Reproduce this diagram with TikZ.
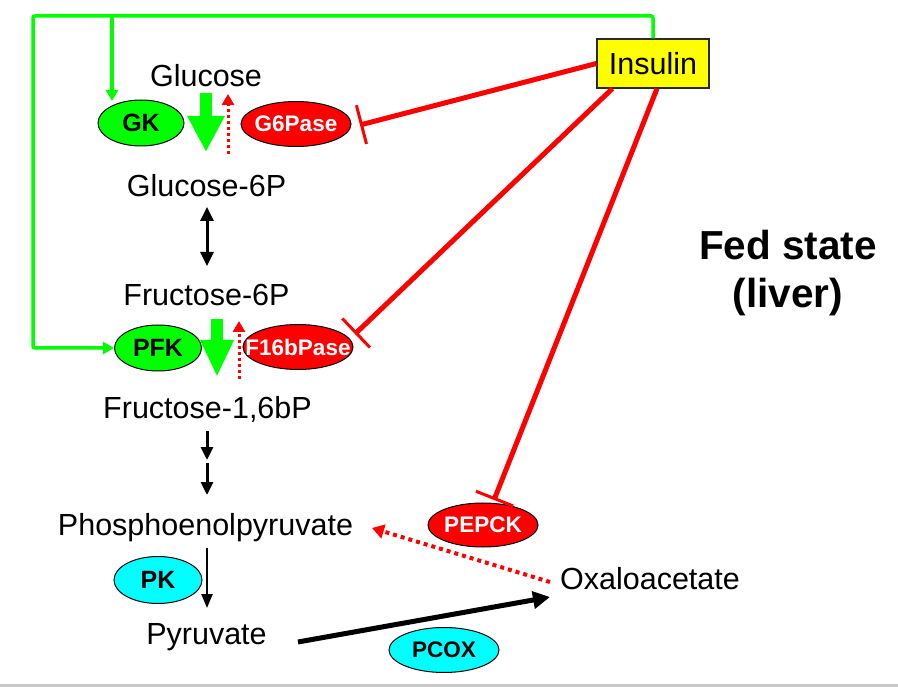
\documentclass[tikz,border=0pt]{standalone}
\usepackage{fontspec}
\setmainfont{Liberation Sans}
\usetikzlibrary{arrows.meta,shapes.geometric}
\definecolor{lgreen}{RGB}{0,255,0}
\definecolor{lred}{RGB}{255,0,0}
\definecolor{lcyan}{RGB}{0,255,255}
\definecolor{lyellow}{RGB}{255,255,0}
\definecolor{edgegray}{RGB}{40,40,40}
\definecolor{bottomgray}{RGB}{200,200,200}
\newcommand{\enzlabel}[1]{\makebox[0pt][c]{#1}}
\begin{document}
\begin{tikzpicture}[x=1pt,y=-1pt,
  metab/.style={anchor=base, inner sep=0pt, font=\fontsize{30.5}{36}\selectfont},
  enzyme/.style={ellipse, draw=black, line width=1pt, inner sep=0pt},
  enzbig/.style={font=\fontsize{25}{30}\selectfont\bfseries},
  enzsmall/.style={font=\fontsize{22.5}{27}\selectfont\bfseries},
  grnline/.style={draw=lgreen, line width=3.5pt, -{Triangle[width=12pt,length=11pt]}},
  bigarrow/.style={draw=lgreen, line width=12pt},
  reddot/.style={draw=lred, line width=3pt, dash pattern=on 3pt off 3pt, -{Triangle[width=12pt,length=11pt]}},
  inhib/.style={draw=lred, line width=5pt, -{Bar[width=40pt,line width=3pt]}},
  blk/.style={draw=black, line width=3pt}
]
\useasboundingbox (0,0) rectangle (898,687);
\fill[white] (0,0) rectangle (898,687);
\fill[bottomgray] (0,684) rectangle (898,687);

% metabolites
\node[metab] (glc) at (206,87) {Glucose};
\node[metab] (g6p) at (206.5,197) {Glucose-6P};
\node[metab] (f6p) at (206.5,306) {Fructose-6P};
\node[metab] (f16) at (207.5,418) {Fructose-1,6bP};
\node[metab] (pep) at (205.5,535) {Phosphoenolpyruvate};
\node[metab] (pyr) at (206.5,644) {Pyruvate};
\node[metab] (oaa) at (650,589) {Oxaloacetate};

% enzymes
\node[enzyme, enzbig, fill=lgreen, minimum width=86pt, minimum height=46pt] (gk) at (141,123) {\enzlabel{GK}};
\node[enzyme, enzsmall, fill=lred, text=white, minimum width=110pt, minimum height=45pt] (g6pase) at (296,124) {\enzlabel{G6Pase}};
\node[enzyme, enzbig, fill=lgreen, minimum width=87pt, minimum height=46pt] (pfk) at (158,348) {\enzlabel{PFK}};
\node[enzyme, enzsmall, fill=lred, text=white, minimum width=110pt, minimum height=45pt] (f16bpase) at (298,347) {\enzlabel{F16bPase}};
\node[enzyme, enzsmall, fill=lred, text=white, minimum width=110pt, minimum height=44pt] (pepck) at (483,525) {\enzlabel{PEPCK}};
\node[enzyme, enzbig, fill=lcyan, minimum width=88pt, minimum height=47pt] (pk) at (158,580) {\enzlabel{PK}};
\node[enzyme, enzsmall, fill=lcyan, minimum width=110pt, minimum height=45pt] (pcox) at (444,650) {\enzlabel{PCOX}};

% insulin and title
\node[draw=edgegray, fill=lyellow, line width=1.2pt, minimum width=112pt, minimum height=49pt, inner sep=0pt,
      font=\fontsize{30.5}{36}\selectfont] (ins) at (653,63.5) {Insulin};
\node[anchor=base, inner sep=0pt, font=\fontsize{40.5}{48}\selectfont\bfseries] (fed1) at (788,260) {Fed state};
\node[anchor=base, inner sep=0pt, font=\fontsize{40.5}{48}\selectfont\bfseries] (fed2) at (788,308) {(liver)};

% coordinates for free ends
\coordinate (br) at (112,16);
\coordinate (gktip) at (112,101);
\coordinate (bar1) at (360,125);
\coordinate (bar2) at (355,334);
\coordinate (bar3) at (494,500);
\coordinate (ga1) at (206,93);   \coordinate (ga2) at (206,152);
\coordinate (gb1) at (217,319);  \coordinate (gb2) at (217,377);
\coordinate (ra1) at (228,154);  \coordinate (ra2) at (228,94);
\coordinate (rb1) at (239,379);  \coordinate (rb2) at (239,321);
\coordinate (d1) at (207,207);   \coordinate (d2) at (207,266);
\coordinate (e1) at (207,431);   \coordinate (e2) at (207,460);
\coordinate (e3) at (207,463);   \coordinate (e4) at (207,495);
\coordinate (k1) at (207,548);   \coordinate (k2) at (207,608);
\coordinate (p1) at (298,642);   \coordinate (p2) at (550,597);
\coordinate (o1) at (550,582);   \coordinate (o2) at (372,528);

% green activation
\draw[grnline, rounded corners=2pt] (ins.north) |- (33,16) |- (pfk.west);
\draw[grnline] (br) -- (gktip);

% insulin inhibition
\draw[inhib] (ins.west) -- (bar1);
\draw[inhib] ([xshift=16pt]ins.south west) -- (bar2);
\draw[inhib] ([xshift=4pt]ins.south) -- (bar3);

% big green arrows
\draw[bigarrow, -{Triangle[width=35pt,length=36pt]}] (ga1) -- (ga2);
\draw[bigarrow, -{Triangle[width=31pt,length=37pt]}] (gb1) -- (gb2);

% red dotted reverse
\draw[reddot] (ra1) -- (ra2);
\draw[reddot] (rb1) -- (rb2);
\draw[reddot, line width=4pt, dash pattern=on 4pt off 4pt, -{Triangle[width=14pt,length=12pt]}] (o1) -- (o2);

% black arrows
\draw[blk, {Triangle[width=13pt,length=14pt]}-{Triangle[width=13pt,length=14pt]}] (d1) -- (d2);
\draw[blk, -{Triangle[width=12pt,length=13pt]}] (e1) -- (e2);
\draw[blk, -{Triangle[width=12pt,length=13pt]}] (e3) -- (e4);
\draw[blk, line width=2.5pt, -{Triangle[width=11pt,length=14pt]}] (k1) -- (k2);
\draw[blk, line width=5pt, -{Triangle[width=17pt,length=17pt]}] (p1) -- (p2);
\end{tikzpicture}
\end{document}
